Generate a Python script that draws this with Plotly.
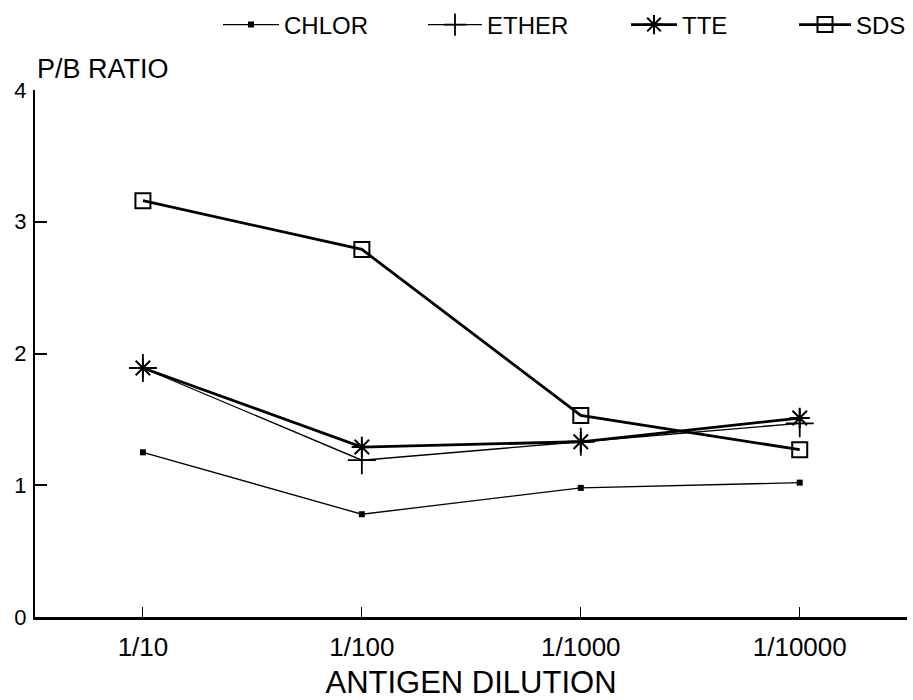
import plotly.graph_objects as go

categories = ["1/10", "1/100", "1/1000", "1/10000"]
chlor = [1.25, 0.78, 0.98, 1.02]
ether = [1.89, 1.19, 1.33, 1.47]
tte = [1.89, 1.29, 1.33, 1.51]
sds = [3.16, 2.79, 1.53, 1.27]
y_ticks = [0, 1, 2, 3, 4]

FONT = "Liberation Sans, Arial"
W, H = 913, 700
x = list(range(len(categories)))

fig = go.Figure()
fig.add_trace(go.Scatter(x=x, y=chlor, name="CHLOR", mode="lines+markers", legend="legend",
                         line=dict(color="black", width=1.3),
                         marker=dict(symbol="square", size=6, color="black")))
fig.add_trace(go.Scatter(x=x, y=ether, name="ETHER", mode="lines+markers", legend="legend2",
                         line=dict(color="black", width=1.3),
                         marker=dict(symbol="cross-thin-open", size=20, color="black",
                                     line=dict(width=1.8, color="black"))))
fig.add_trace(go.Scatter(x=x, y=tte, name="TTE", mode="lines+markers", legend="legend3",
                         line=dict(color="black", width=2.8),
                         marker=dict(symbol="asterisk-open", size=17, color="black",
                                     line=dict(width=2, color="black"))))
fig.add_trace(go.Scatter(x=x, y=sds, name="SDS", mode="lines+markers", legend="legend4",
                         line=dict(color="black", width=2.8),
                         marker=dict(symbol="square-open", size=15, color="black",
                                     line=dict(width=2, color="black"))))


def leg(center_x, itemwidth):
    return dict(orientation="h", xref="container", yref="container",
                x=(center_x - 22) / W, xanchor="left", y=1 - 25 / H,
                yanchor="middle", font=dict(size=24, family=FONT), itemwidth=itemwidth,
                bgcolor="rgba(0,0,0,0)", borderwidth=0)


fig.update_layout(
    width=W, height=H,
    margin=dict(l=35, r=6, t=90, b=83),
    plot_bgcolor="white", paper_bgcolor="white",
    font=dict(family=FONT, color="black", size=20),
    showlegend=True,
    legend=leg(240, 56),
    legend2=leg(445, 54),
    legend3=leg(648, 46),
    legend4=leg(816, 52),
    xaxis=dict(range=[-0.493, 3.49], tickmode="array", tickvals=x, ticktext=categories,
               ticks="inside", ticklen=10, tickwidth=1.2, tickcolor="black",
               showline=True, linecolor="black", linewidth=2.5, showgrid=False, zeroline=False,
               tickfont=dict(size=26), ticklabelstandoff=5, automargin=False,
               title=dict(text="ANTIGEN DILUTION", font=dict(size=31), standoff=18)),
    yaxis=dict(range=[0, 4], tickvals=y_ticks, ticks="inside", ticklen=12, tickwidth=1.5,
               tickcolor="black", showline=True, linecolor="black", linewidth=2,
               showgrid=False, zeroline=False, tickfont=dict(size=22),
               ticklabelstandoff=2, automargin=False),
    annotations=[dict(text="P/B RATIO", xref="paper", yref="paper", x=0.0, y=1.0,
                      xanchor="left", yanchor="bottom", yshift=4, showarrow=False,
                      font=dict(size=27, family=FONT))],
)

fig.write_html("out.html", config={"displayModeBar": False},
               post_script="document.body.style.margin='0';document.body.style.overflow='hidden';")
